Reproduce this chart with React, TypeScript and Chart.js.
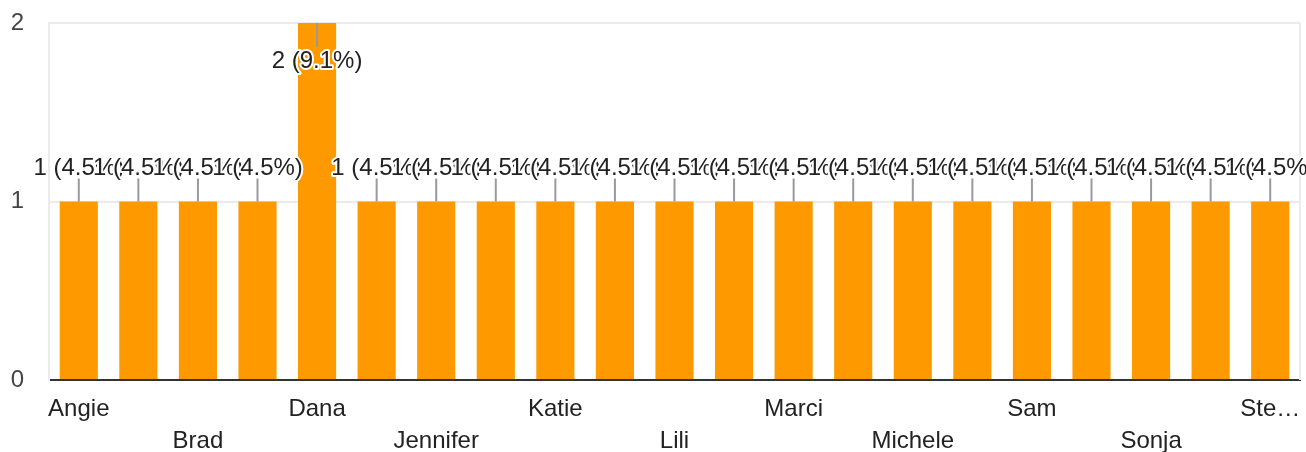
import React, { useEffect, useRef } from "react";
import { Chart, registerables } from "chart.js";

Chart.register(...registerables);

const categories = [
  "Angie", "Becky", "Brad", "Carla", "Dana", "Heather", "Jennifer", "Julie",
  "Katie", "Kelly", "Lili", "Lisa", "Marci", "Mary", "Michele", "Nancy",
  "Sam", "Sara", "Sonja", "Stacy", "Stephanie",
];
const values = [1, 1, 1, 1, 2, 1, 1, 1, 1, 1, 1, 1, 1, 1, 1, 1, 1, 1, 1, 1, 1];
const yTicks = [0, 1, 2];

const FONT = "Arial, 'Liberation Sans', sans-serif";
const BAR_COLOR = "#ff9900";

const valueLabelPlugin = {
  id: "valueLabels",
  afterDatasetsDraw(chart: any) {
    const { ctx, chartArea } = chart;
    const total = values.reduce((a, b) => a + b, 0);
    const meta = chart.getDatasetMeta(0);
    ctx.save();
    ctx.font = `24px ${FONT}`;
    ctx.textAlign = "center";
    ctx.textBaseline = "middle";
    meta.data.forEach((bar: any, i: number) => {
      const v = values[i];
      const text = `${v} (${((v / total) * 100).toFixed(1)}%)`;
      const x = bar.x;
      const top = bar.y;
      const down = top - 23 - 26 < chartArea.top;
      ctx.strokeStyle = "#9a9a9a";
      ctx.lineWidth = 2;
      ctx.beginPath();
      let ty;
      if (down) {
        ctx.moveTo(x, top);
        ctx.lineTo(x, top + 24);
        ty = top + 38;
      } else {
        ctx.moveTo(x, top);
        ctx.lineTo(x, top - 23);
        ty = top - 33;
      }
      ctx.stroke();
      ctx.lineJoin = "round";
      ctx.strokeStyle = "#ffffff";
      ctx.lineWidth = 4;
      ctx.strokeText(text, x, ty);
      ctx.fillStyle = "#222222";
      ctx.fillText(text, x, ty);
    });
    ctx.restore();
  },
  beforeDatasetsDraw(chart: any) {
    const { ctx, chartArea } = chart;
    ctx.save();
    ctx.strokeStyle = "#ebebeb";
    ctx.lineWidth = 2;
    ctx.beginPath();
    ctx.moveTo(chartArea.right, chartArea.top);
    ctx.lineTo(chartArea.right, chartArea.bottom);
    ctx.stroke();
    ctx.restore();
  },
};

export default function App() {
  const ref = useRef<HTMLCanvasElement>(null);
  useEffect(() => {
    if (!ref.current) return;
    const last = categories.length - 1;
    const chart = new Chart(ref.current, {
      type: "bar",
      data: {
        labels: categories,
        datasets: [
          {
            data: values,
            backgroundColor: BAR_COLOR,
            barPercentage: 0.64,
            categoryPercentage: 1,
          },
        ],
      },
      options: {
        animation: false,
        responsive: true,
        maintainAspectRatio: false,
        layout: { padding: { top: 23, right: 0, left: 0, bottom: 0 } },
        plugins: { legend: { display: false }, tooltip: { enabled: false } },
        scales: {
          x: {
            grid: { display: false, drawTicks: false },
            border: { color: "#333333", width: 2 },
            afterFit(scale: any) {
              scale.height = 72;
              scale.paddingRight = 6;
            },
            ticks: {
              autoSkip: false,
              maxRotation: 0,
              minRotation: 0,
              padding: 13,
              color: "#222222",
              font: { family: FONT, size: 24, lineHeight: "32px" as any },
              callback(_v: any, i: number) {
                if (i % 2 === 1) return "";
                let name = categories[i];
                if (i === last) name = name.slice(0, 3) + "…";
                return (i / 2) % 2 === 0 ? [name, ""] : ["", name];
              },
            },
          },
          y: {
            min: 0,
            max: 2,
            afterFit(scale: any) {
              scale.width = 49;
              scale.paddingTop = 0;
              scale.paddingBottom = 0;
            },
            afterBuildTicks(scale: any) {
              scale.ticks = yTicks.map((v) => ({ value: v }));
            },
            border: { color: "#ebebeb", width: 2 },
            grid: {
              drawTicks: false,
              lineWidth: 2,
              color: (c: any) => (c.tick && c.tick.value === 0 ? "#333333" : "#ebebeb"),
            },
            ticks: {
              padding: 25,
              color: "#444444",
              font: { family: FONT, size: 24 },
              stepSize: 1,
            },
          },
        },
      },
      plugins: [valueLabelPlugin],
    });
    return () => chart.destroy();
  }, []);
  return (
    <div style={{ position: "fixed", left: 0, top: 0, width: 1306, height: 452 }}>
      <canvas ref={ref} />
    </div>
  );
}
